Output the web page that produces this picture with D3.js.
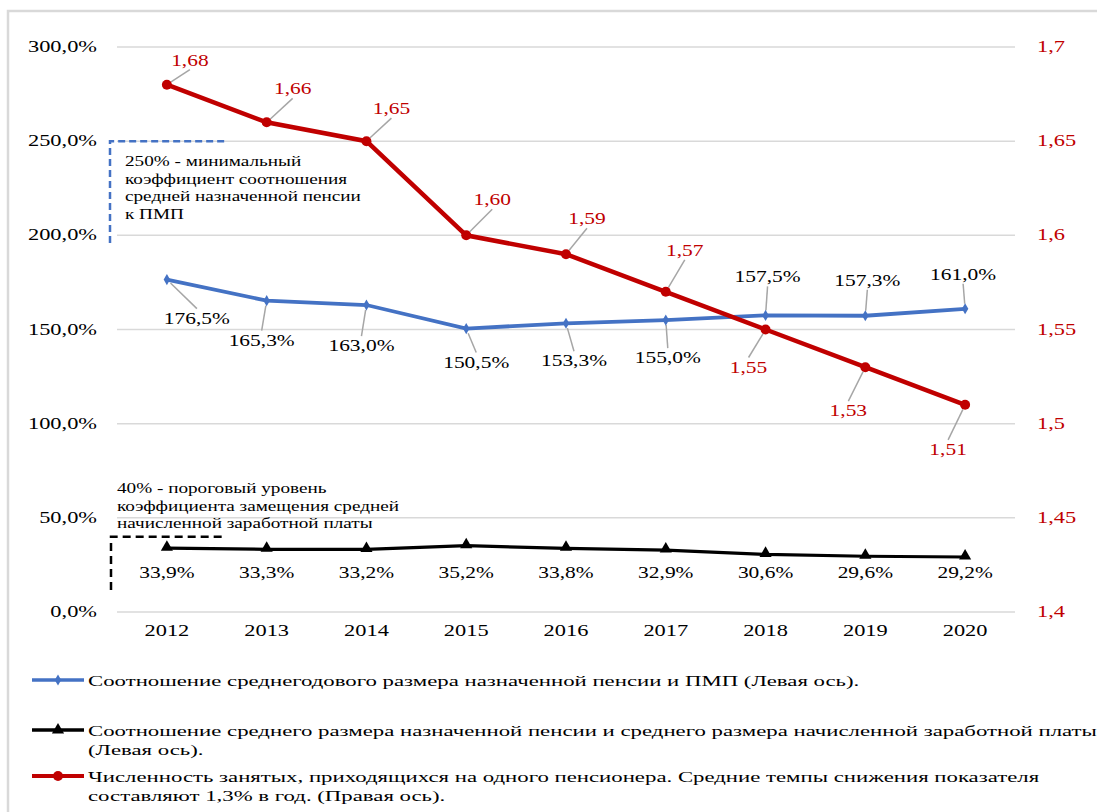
<!DOCTYPE html>
<html>
<head>
<meta charset="utf-8">
<script src="https://cdn.jsdelivr.net/npm/d3@7"></script>
<style>
  body { margin: 0; background: #fff; }
</style>
</head>
<body>
<div id="chart-area"></div>
<script>
/* Data */

const years = ["2012", "2013", "2014", "2015", "2016", "2017", "2018", "2019", "2020"]
const pensionToPmp = [176.5, 165.3, 163.0, 150.5, 153.3, 155.0, 157.5, 157.3, 161.0]
const pensionToWage = [33.9, 33.3, 33.2, 35.2, 33.8, 32.9, 30.6, 29.6, 29.2]
const workersPerPensioner = [1.68, 1.66, 1.65, 1.60, 1.59, 1.57, 1.55, 1.53, 1.51]

const leftTicks = [0, 50, 100, 150, 200, 250, 300]
const rightTicks = [1.4, 1.45, 1.5, 1.55, 1.6, 1.65, 1.7]
const rightTickLabels = ["1,4", "1,45", "1,5", "1,55", "1,6", "1,65", "1,7"]

const legendLabels = [
    ["Соотношение среднегодового размера назначенной пенсии и ПМП  (Левая ось)."],
    ["Соотношение среднего размера назначенной пенсии и среднего размера начисленной заработной платы",
     "(Левая ось)."],
    ["Численность занятых, приходящихся на одного пенсионера. Средние темпы снижения показателя",
     "составляют 1,3% в год. (Правая ось)."]
]
const noteBlue = ["250% - минимальный", "коэффициент  соотношения", "средней назначенной  пенсии", "к ПМП"]
const noteBlack = ["40% - пороговый уровень", "коэффициента  замещения средней", "начисленной  заработной платы"]

/* Label offsets (layout only) */
const blueOffsets = [[30, 44], [-5, 45], [-5, 46], [10, 39], [8, 43], [2, 43], [2, -33], [2, -30], [-2, -29]]
const redOffsets = [[23, -19], [26, -28], [25, -27], [26, -30], [21, -30], [19, -36], [-17, 43], [-17, 49], [-17, 50]]

const BLUE = "#4472C4", RED = "#C00000", GRID = "#d9d9d9", LEADER = "#a6a6a6"
const FONT = "'Times New Roman', 'Liberation Serif', 'Noto Serif', 'DejaVu Serif', Times, serif"
// horizontal stretch of the text, the source picture is widened
const SX_AXIS = 1.4, SX_LABEL = 1.34, SX_NOTE = 1.28, SX_LEGEND = 1.52

const fmt = (v, d) => v.toFixed(d).replace(".", ",")

/* Chart area */

const W = 1097, H = 812
const svg = d3.select("#chart-area").append("svg")
    .attr("width", W)
    .attr("height", H)
    .attr("font-family", FONT)

svg.append("rect")
    .attr("x", 8).attr("y", 11)
    .attr("width", W + 20).attr("height", H + 20)
    .attr("fill", "none")
    .attr("stroke", GRID)
    .attr("stroke-width", 2.5)

const x = d3.scaleBand().domain(years).range([117, 1015])
const cx = d => x(d) + x.bandwidth() / 2
const yL = d3.scaleLinear().domain([0, 300]).range([612, 47])
const yR = d3.scaleLinear().domain([1.4, 1.7]).range([612, 47])

function txt(sel, px, py, s, o = {}) {
    return sel.append("text")
        .attr("transform", `translate(${px},${py}) scale(${o.sx || SX_LABEL},1)`)
        .attr("text-anchor", o.anchor || "start")
        .attr("font-family", FONT)
        .attr("font-size", o.size || 16)
        .attr("fill", o.fill || "#000")
        .text(s)
}

// gridlines
svg.append("g").selectAll("line")
    .data(leftTicks)
    .enter().append("line")
    .attr("x1", 117).attr("x2", 1015)
    .attr("y1", d => yL(d)).attr("y2", d => yL(d))
    .attr("stroke", GRID)
    .attr("stroke-width", 1.5)

// left axis labels
leftTicks.forEach(t => txt(svg, 97, yL(t) + 5, fmt(t, 1) + "%", { anchor: "end", sx: SX_AXIS }))

// right axis labels
rightTicks.forEach((t, i) => txt(svg, 1037, yR(t) + 5, rightTickLabels[i], { fill: RED, sx: SX_AXIS }))

// x axis labels
years.forEach(yr => txt(svg, cx(yr), 636, yr, { anchor: "middle", sx: SX_AXIS }))

/* Annotations */

const noteB = svg.append("g")
noteB.append("path")
    .attr("d", `M110,243 V${yL(250)} H228`)
    .attr("fill", "none")
    .attr("stroke", BLUE)
    .attr("stroke-width", 2.5)
    .attr("stroke-dasharray", "7,4")
noteBlue.forEach((s, i) => txt(noteB, 125, 166 + i * 17.7, s, { size: 15, sx: SX_NOTE }))

const noteK = svg.append("g")
noteK.append("path")
    .attr("d", `M111,590 V${yL(40)} H225`)
    .attr("fill", "none")
    .attr("stroke", "#000")
    .attr("stroke-width", 2.5)
    .attr("stroke-dasharray", "8,5")
noteBlack.forEach((s, i) => txt(noteK, 117, 493 + i * 17.5, s, { size: 15, sx: SX_NOTE }))

/* Series */

const lineL = d3.line().x((d, i) => cx(years[i])).y(d => yL(d))
const lineR = d3.line().x((d, i) => cx(years[i])).y(d => yR(d))

// leader lines helper
function leader(g, px, py, lx, ly, above) {
    const ex = lx, ey = above ? ly + 4 : ly - 15
    const len = Math.hypot(ex - px, ey - py)
    const sx = px + (ex - px) * 5 / len, sy = py + (ey - py) * 5 / len
    g.append("line")
        .attr("x1", sx).attr("y1", sy)
        .attr("x2", ex).attr("y2", ey)
        .attr("stroke", LEADER)
        .attr("stroke-width", 1.5)
}

// blue
const gBlue = svg.append("g")
pensionToPmp.forEach((v, i) => {
    const px = cx(years[i]), py = yL(v)
    const [dx, dy] = blueOffsets[i]
    leader(gBlue, px, py, px + dx, py + dy, dy < 0)
})
gBlue.append("path")
    .attr("d", lineL(pensionToPmp))
    .attr("fill", "none")
    .attr("stroke", BLUE)
    .attr("stroke-width", 3.8)
gBlue.selectAll(".pt")
    .data(pensionToPmp)
    .enter().append("path")
    .attr("class", "pt")
    .attr("d", d3.symbol(d3.symbolDiamond, 36))
    .attr("transform", (d, i) => `translate(${cx(years[i])},${yL(d)})`)
    .attr("fill", BLUE)
pensionToPmp.forEach((v, i) => {
    const [dx, dy] = blueOffsets[i]
    txt(gBlue, cx(years[i]) + dx, yL(v) + dy, fmt(v, 1) + "%", { anchor: "middle" })
})

// black
const gBlack = svg.append("g")
gBlack.append("path")
    .attr("d", lineL(pensionToWage))
    .attr("fill", "none")
    .attr("stroke", "#000")
    .attr("stroke-width", 3.2)
gBlack.selectAll(".pt")
    .data(pensionToWage)
    .enter().append("path")
    .attr("class", "pt")
    .attr("d", d3.symbol(d3.symbolTriangle, 64))
    .attr("transform", (d, i) => `translate(${cx(years[i])},${yL(d) - 1})`)
    .attr("fill", "#000")
pensionToWage.forEach((v, i) => {
    txt(gBlack, cx(years[i]), 578, fmt(v, 1) + "%", { anchor: "middle" })
})

// red
const gRed = svg.append("g")
workersPerPensioner.forEach((v, i) => {
    const px = cx(years[i]), py = yR(v)
    const [dx, dy] = redOffsets[i]
    leader(gRed, px, py, px + dx, py + dy, dy < 0)
})
gRed.append("path")
    .attr("d", lineR(workersPerPensioner))
    .attr("fill", "none")
    .attr("stroke", RED)
    .attr("stroke-width", 4.5)
gRed.selectAll("circle")
    .data(workersPerPensioner)
    .enter().append("circle")
    .attr("cx", (d, i) => cx(years[i]))
    .attr("cy", d => yR(d))
    .attr("r", 5)
    .attr("fill", RED)
workersPerPensioner.forEach((v, i) => {
    const [dx, dy] = redOffsets[i]
    txt(gRed, cx(years[i]) + dx, yR(v) + dy, fmt(v, 2), { anchor: "middle", fill: RED })
})

/* Legend */

const legendRows = [
    { color: BLUE, width: 3.5, y: 680, marker: d3.symbol(d3.symbolDiamond, 36) },
    { color: "#000", width: 3.5, y: 730, marker: d3.symbol(d3.symbolTriangle, 64) },
    { color: RED, width: 4, y: 776, marker: null }
]
legendRows.forEach((r, i) => {
    const lg = svg.append("g")
    lg.append("line")
        .attr("x1", 32).attr("x2", 84)
        .attr("y1", r.y).attr("y2", r.y)
        .attr("stroke", r.color)
        .attr("stroke-width", r.width)
    if (r.marker) {
        lg.append("path")
            .attr("d", r.marker)
            .attr("transform", `translate(58,${r.y})`)
            .attr("fill", r.color)
    } else {
        lg.append("circle").attr("cx", 58).attr("cy", r.y).attr("r", 5).attr("fill", r.color)
    }
    legendLabels[i].forEach((s, j) => txt(lg, 88, r.y + 6 + j * 19, s, { size: 15, sx: SX_LEGEND }))
})
</script>
</body>
</html>
